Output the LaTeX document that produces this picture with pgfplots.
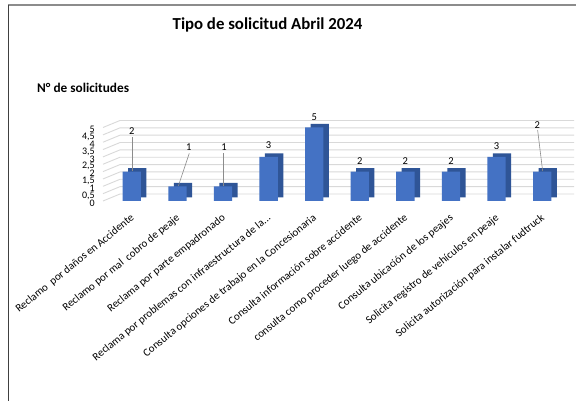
\documentclass[border=0pt]{standalone}
\usepackage{fontspec}
\setmainfont{Carlito}
\usepackage{pgfplots}
\pgfplotsset{compat=1.18}
\definecolor{barfront}{HTML}{4472C4}
\definecolor{barside}{HTML}{2F5597}
\definecolor{gridc}{HTML}{D9D9D9}
\begin{document}
\begin{tikzpicture}
\useasboundingbox (0,0) rectangle (576pt,401pt);
\fill[white] (0,0) rectangle (576pt,401pt);
\draw[color=black!45, line width=1.2pt] (8pt,396pt) -- (576pt,396pt);
\draw[color=black!75, line width=1pt] (8pt,396pt) -- (8pt,0pt);
\node[font=\fontsize{16.8}{19}\selectfont\bfseries] at (267.5pt,376pt) {Tipo de solicitud Abril 2024};
\node[font=\fontsize{13.3}{15}\selectfont\bfseries, anchor=west, inner sep=0pt] at (37pt,313pt) {N° de solicitudes};
\begin{axis}[
  at={(103pt,200pt)}, anchor=south west, scale only axis,
  width=471.1pt, height=73.5pt,
  xmin=-0.632, xmax=9.70, ymin=0, ymax=5,
  clip=false,
  axis line style={draw=none},
  major tick style={draw=none},
  ytick={0,0.5,1,1.5,2,2.5,3,3.5,4,4.5,5},
  yticklabels={0,{0,5},1,{1,5},2,{2,5},3,{3,5},4,{4,5},5},
  yticklabel style={font=\fontsize{10}{10}\selectfont, anchor=east, inner sep=0pt, xshift=-8pt, yshift=-2pt},
  xtick={0,1,2,3,4,5,6,7,8,9},
  xticklabels={
    Reclamo\ \ por daños en Accidente,
    Reclamo por mal\ \ cobro de peaje,
    Reclama por parte empadronado,
    Reclama por problemas con infraestructura de la{.}{.}{.},
    Consulta opciones de trabajo en la Concesionaria,
    Consulta información sobre accidente,
    consulta como proceder luego de accidente,
    Consulta ubicación de los peajes,
    Solicita registro de vehículos en peaje,
    Solicita autorización para instalar fudtruck},
  xticklabel style={font=\fontsize{11}{12}\selectfont, inner sep=0pt, xshift=-2pt, yshift=-12pt, rotate=39, anchor=north east},
]
\pgfplotsinvokeforeach{0,0.5,1,1.5,2,2.5,3,3.5,4,4.5,5}{
  \draw[gridc, line width=0.9pt] (axis cs:-0.632,#1) -- ++(17pt,7pt) -- ([yshift=7pt]axis cs:9.70,#1);
}
\addplot[ybar, bar width=18.3pt, bar shift=0pt, fill=barside, draw=none, xshift=5.5pt, yshift=3.5pt]
  coordinates {(0,2) (1,1) (2,1) (3,3) (4,5) (5,2) (6,2) (7,2) (8,3) (9,2)};
\addplot[ybar, bar width=18.3pt, bar shift=0pt, fill=barfront, draw=none]
  coordinates {(0,2) (1,1) (2,1) (3,3) (4,5) (5,2) (6,2) (7,2) (8,3) (9,2)};
\addplot[black!45, line width=0.6pt, mark=none] coordinates {(0,4.35) (0,2.02)};
\addplot[black!45, line width=0.6pt, mark=none] coordinates {(1.26,3.24) (1.02,1.02)};
\addplot[black!45, line width=0.6pt, mark=none] coordinates {(2.0,3.24) (2.0,1.02)};
\addplot[black!45, line width=0.6pt, mark=none] coordinates {(8.90,4.83) (9.01,2.04)};
\addplot[draw=none, mark=none, nodes near coords, point meta=explicit symbolic,
  every node near coord/.append style={anchor=center, text=black, font=\fontsize{10.5}{12}\selectfont, inner sep=0pt}]
  coordinates {(0,4.76)[2] (1.25,3.67)[1] (2.02,3.67)[1] (3.0,3.78)[3] (4.0,5.72)[5]
               (5.0,2.73)[2] (6.0,2.73)[2] (7.0,2.73)[2] (8.0,3.75)[3] (8.89,5.15)[2]};
\end{axis}
\end{tikzpicture}
\end{document}
